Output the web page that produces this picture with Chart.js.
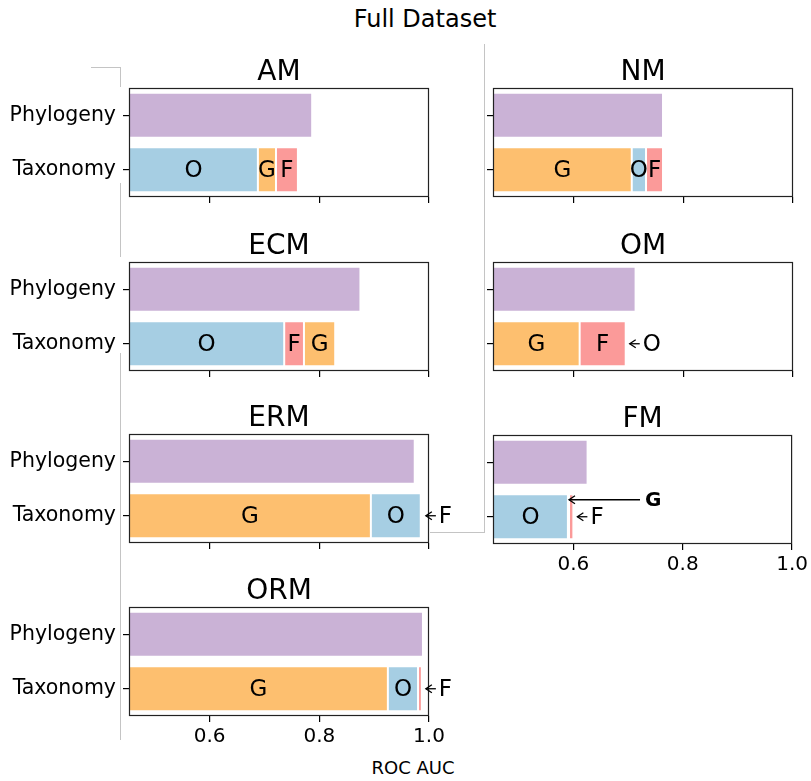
<!DOCTYPE html>
<html>
<head>
<meta charset="utf-8">
<script src="https://cdn.jsdelivr.net/npm/chart.js@4"></script>
<style>
  body { margin: 0; background: #fff; }
  #fig { position: relative; width: 811px; height: 781px; overflow: hidden; font-family: "DejaVu Sans", sans-serif; }
  .panel { position: absolute; }
  .txt { position: absolute; color: #000; white-space: nowrap; text-align: center; }
  .frame { position: absolute; background: #c4c4c4; }
</style>
</head>
<body>
<div id="fig">
  <div class="frame" style="left:91px;top:67px;width:30px;height:1px"></div>
  <div class="frame" style="left:120px;top:67px;width:1px;height:20px"></div>
  <div class="frame" style="left:120px;top:183px;width:1px;height:74px"></div>
  <div class="frame" style="left:120px;top:353px;width:1px;height:387px"></div>
  <div class="frame" style="left:484px;top:44px;width:1px;height:489px"></div>
  <div class="frame" style="left:430px;top:532px;width:55px;height:1px"></div>
  <div class="txt" style="left:325px;top:4px;width:200px;font-size:24px;line-height:30px">Full Dataset</div>
  <div class="txt" style="left:313px;top:756px;width:200px;font-size:18px;line-height:24px">ROC AUC</div>
</div>
<script>
// data
var panelNames = ['AM', 'ECM', 'ERM', 'ORM', 'NM', 'OM', 'FM'];
var rowLabels = ['Phylogeny', 'Taxonomy'];
var phylogenyAuc = [0.787, 0.875, 0.974, 0.989, 0.763, 0.713, 0.626];
// taxonomy bar: stacked pieces, in drawing order per panel
var segmentOrder = [
    ['O', 'G', 'F'],
    ['O', 'F', 'G'],
    ['G', 'O', 'F'],
    ['G', 'O', 'F'],
    ['G', 'O', 'F'],
    ['G', 'F', 'O'],
    ['O', 'G', 'F']
];
var segmentGain = [
    [0.688, 0.033, 0.040],
    [0.736, 0.036, 0.057],
    [0.894, 0.091, 0.002],
    [0.925, 0.055, 0.007],
    [0.706, 0.026, 0.031],
    [0.611, 0.084, 0.000],
    [0.590, 0.002, 0.008]
];
// pieces too thin for an inside label get an arrow
var arrowSegs = [[], [], ['F'], ['F'], [], ['O'], ['G', 'F']];
var xTicks = [0.6, 0.8, 1.0];
var xMin = 0.453, xMax = 1.0;

var colors = { P: '#cab2d6', O: '#a6cee3', G: '#fdbf6f', F: '#fb9a99' };

// layout (axes boxes)
var axTop = [88, 262, 434, 607, 88, 262, 435];
var axH = 109;
var showXLabels = [false, false, false, true, false, false, true];

Chart.defaults.font.family = '"DejaVu Sans", sans-serif';
Chart.defaults.color = '#000';

function arrowHead(ctx, x, y) {
    ctx.beginPath();
    ctx.moveTo(x + 6, y - 4);
    ctx.lineTo(x, y);
    ctx.lineTo(x + 6, y + 4);
    ctx.stroke();
}

function makeDecor(i) {
    return {
        id: 'decor' + i,
        afterDatasetsDraw: function (chart) {
            var ctx = chart.ctx, a = chart.chartArea;
            var xs = chart.scales.x, ys = chart.scales.y;
            ctx.save();
            // axes box
            ctx.strokeStyle = '#222';
            ctx.lineWidth = 1.2;
            ctx.strokeRect(a.left + 0.5, a.top + 0.5, a.right - a.left - 1, a.bottom - a.top - 1);
            // title
            ctx.fillStyle = '#000';
            ctx.font = '28px "DejaVu Sans"';
            ctx.textAlign = 'center';
            ctx.textBaseline = 'alphabetic';
            ctx.fillText(panelNames[i], (a.left + a.right) / 2, a.top - 8);
            // segment labels
            var yc = ys.getPixelForValue(1);
            var start = 0;
            ctx.font = '23px "DejaVu Sans"';
            ctx.textBaseline = 'middle';
            ctx.lineWidth = 1.3;
            ctx.strokeStyle = '#000';
            for (var k = 0; k < segmentOrder[i].length; k++) {
                var seg = segmentOrder[i][k];
                var end = start + segmentGain[i][k];
                var x0 = Math.max(xs.getPixelForValue(start), a.left);
                var x1 = xs.getPixelForValue(end);
                if (arrowSegs[i].indexOf(seg) < 0) {
                    ctx.textAlign = 'center';
                    ctx.fillText(seg, (x0 + x1) / 2, yc + 1);
                } else if (seg === 'G' && i === 6) {
                    var ty = yc - 17;
                    ctx.beginPath();
                    ctx.moveTo(x1, ty);
                    ctx.lineTo(x1 + 71, ty);
                    ctx.stroke();
                    arrowHead(ctx, x1, ty);
                    ctx.font = 'bold 20px "DejaVu Sans"';
                    ctx.textAlign = 'left';
                    ctx.fillText(seg, x1 + 76, ty + 1);
                    ctx.font = '23px "DejaVu Sans"';
                } else {
                    var tip = x1 + 4;
                    ctx.beginPath();
                    ctx.moveTo(tip, yc);
                    ctx.lineTo(tip + 10, yc);
                    ctx.stroke();
                    arrowHead(ctx, tip, yc);
                    ctx.textAlign = 'left';
                    ctx.fillText(seg, tip + 13, yc + 1);
                }
                start = end;
            }
            ctx.restore();
        }
    };
}

var fig = document.getElementById('fig');

for (var i = 0; i < panelNames.length; i++) {
    var isLeft = i < 4;
    var cLeft = isLeft ? 0 : 450;
    var cWidth = isLeft ? 470 : 361;
    var yWidth = isLeft ? 129 : 43;
    var padTop = 60, xHeight = 35;

    var box = document.createElement('div');
    box.className = 'panel';
    box.style.left = cLeft + 'px';
    box.style.top = (axTop[i] - padTop) + 'px';
    var canvas = document.createElement('canvas');
    canvas.width = cWidth;
    canvas.height = padTop + axH + xHeight;
    canvas.style.width = cWidth + 'px';
    canvas.style.height = (padTop + axH + xHeight) + 'px';
    box.appendChild(canvas);
    fig.appendChild(box);

    var datasets = [{
        label: 'Phylogeny',
        data: [phylogenyAuc[i], null],
        backgroundColor: colors.P,
        borderColor: '#fff',
        borderWidth: 1,
        borderSkipped: false
    }];
    segmentOrder[i].forEach(function (seg, k) {
        datasets.push({
            label: seg,
            data: [null, segmentGain[i][k]],
            backgroundColor: colors[seg],
            borderColor: '#fff',
            borderWidth: segmentGain[i][k] > 0 ? 1 : 0,
            borderSkipped: false
        });
    });

    new Chart(canvas, {
        type: 'bar',
        data: { labels: rowLabels, datasets: datasets },
        options: {
            indexAxis: 'y',
            responsive: false,
            animation: false,
            barPercentage: 0.83,
            categoryPercentage: 1.0,
            layout: { padding: { top: padTop, right: cWidth - yWidth - 300, left: 0, bottom: 0 } },
            plugins: { legend: { display: false }, tooltip: { enabled: false } },
            scales: {
                x: {
                    type: 'linear',
                    stacked: true,
                    min: xMin,
                    max: xMax,
                    afterBuildTicks: function (s) {
                        s.ticks = xTicks.map(function (v) { return { value: v }; });
                    },
                    afterFit: function (s) { s.height = 35; },
                    grid: { drawOnChartArea: false, drawTicks: true, tickLength: 6, color: '#000', lineWidth: 1.2 },
                    border: { display: false },
                    ticks: {
                        padding: 3,
                        maxRotation: 0,
                        font: { size: 20 },
                        callback: (function (show) {
                            return function (v) { return show ? v.toFixed(1) : ''; };
                        })(showXLabels[i])
                    }
                },
                y: {
                    stacked: true,
                    afterFit: (function (w) { return function (s) { s.width = w; }; })(yWidth),
                    grid: { offset: false, drawOnChartArea: false, drawTicks: true, tickLength: 6, color: '#000', lineWidth: 1.2 },
                    border: { display: false },
                    ticks: {
                        padding: 7,
                        font: { size: 20.5 },
                        callback: (function (left) {
                            return function (v) { return left ? rowLabels[v] : ''; };
                        })(isLeft)
                    }
                }
            }
        },
        plugins: [makeDecor(i)]
    });
}
</script>
</body>
</html>
